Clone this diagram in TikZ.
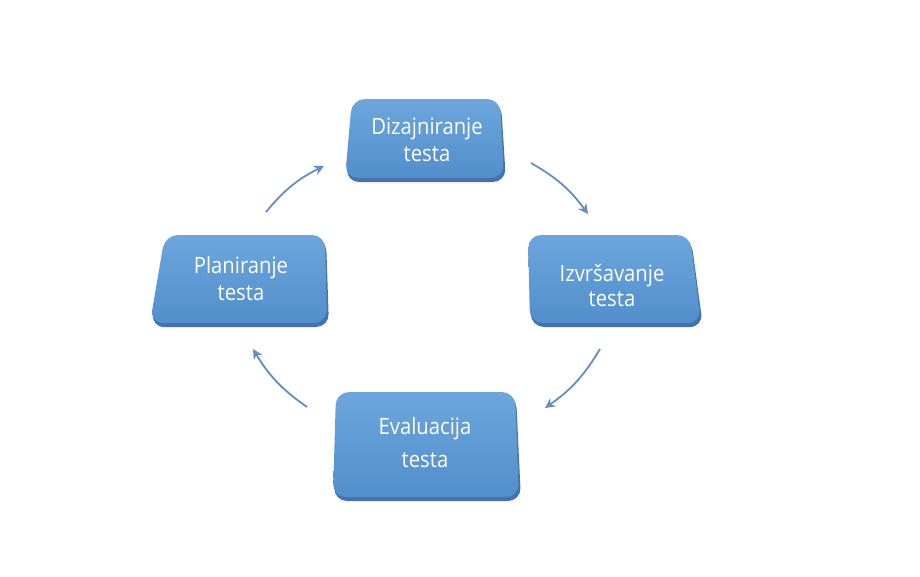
\documentclass[tikz,border=0pt]{standalone}
\usepackage{fontspec}
\setmainfont{Open Sans}[FakeStretch=0.9]
\usetikzlibrary{arrows.meta}
\definecolor{boxtop}{RGB}{108,166,220}
\definecolor{boxbot}{RGB}{82,142,204}
\definecolor{boxedge}{RGB}{66,115,170}
\definecolor{arrowc}{RGB}{100,142,192}
\tikzset{
  boxfill/.style={top color=boxtop, bottom color=boxbot, rounded corners=13pt},
  boxshadow/.style={fill=boxedge, rounded corners=13pt},
  lbl/.style={text=white, align=center, font=\fontsize{22.5}{27}\selectfont, inner sep=0pt, anchor=base},
  cyc/.style={draw=arrowc, line width=1.8pt, -{Stealth[length=10pt,width=10pt]}},
}
\begin{document}
\begin{tikzpicture}[x=1pt,y=-1pt]
\useasboundingbox[fill=white] (0,0) rectangle (920,576);
% Dizajniranje
\fill[boxshadow] (353,102) -- (501,102) -- (506,182) -- (346,182) -- cycle;
\shade[boxfill] (352,99) -- (500,99) -- (504,178) -- (345,178) -- cycle;
% Planiranje
\fill[boxshadow] (166,238) -- (326,238) -- (329,327) -- (151,327) -- cycle;
\shade[boxfill] (165,235) -- (325,235) -- (327,323) -- (150,323) -- cycle;
% Izvrsavanje
\fill[boxshadow] (529,238) -- (691,238) -- (703,327) -- (531,327) -- cycle;
\shade[boxfill] (528,235) -- (690,235) -- (701,323) -- (530,323) -- cycle;
% Evaluacija
\fill[boxshadow] (337,395) -- (516,395) -- (521,501) -- (334,501) -- cycle;
\shade[boxfill] (336,392) -- (515,392) -- (519,497) -- (333,497) -- cycle;

\node[lbl] (diz) at (427,161) {Dizajniranje\\testa};
\node[lbl] (pla) at (241,300) {Planiranje\\testa};
\node[lbl, font=\fontsize{22.5}{25}\selectfont] (izv) at (612,306) {Izvršavanje\\testa};
\node[lbl, font=\fontsize{22.5}{33}\selectfont] (eva) at (425,467) {Evaluacija\\testa};

\coordinate (a1s) at (266,212); \coordinate (a1e) at (324,166);
\coordinate (a2s) at (531,163); \coordinate (a2e) at (588,214);
\coordinate (a3s) at (600,349); \coordinate (a3e) at (545,408);
\coordinate (a4s) at (307,407); \coordinate (a4e) at (253,349);
\draw[cyc] (a1s) to[bend left=12] (a1e);
\draw[cyc] (a2s) to[bend left=12] (a2e);
\draw[cyc] (a3s) to[bend left=12] (a3e);
\draw[cyc] (a4s) to[bend left=12] (a4e);
\end{tikzpicture}
\end{document}
